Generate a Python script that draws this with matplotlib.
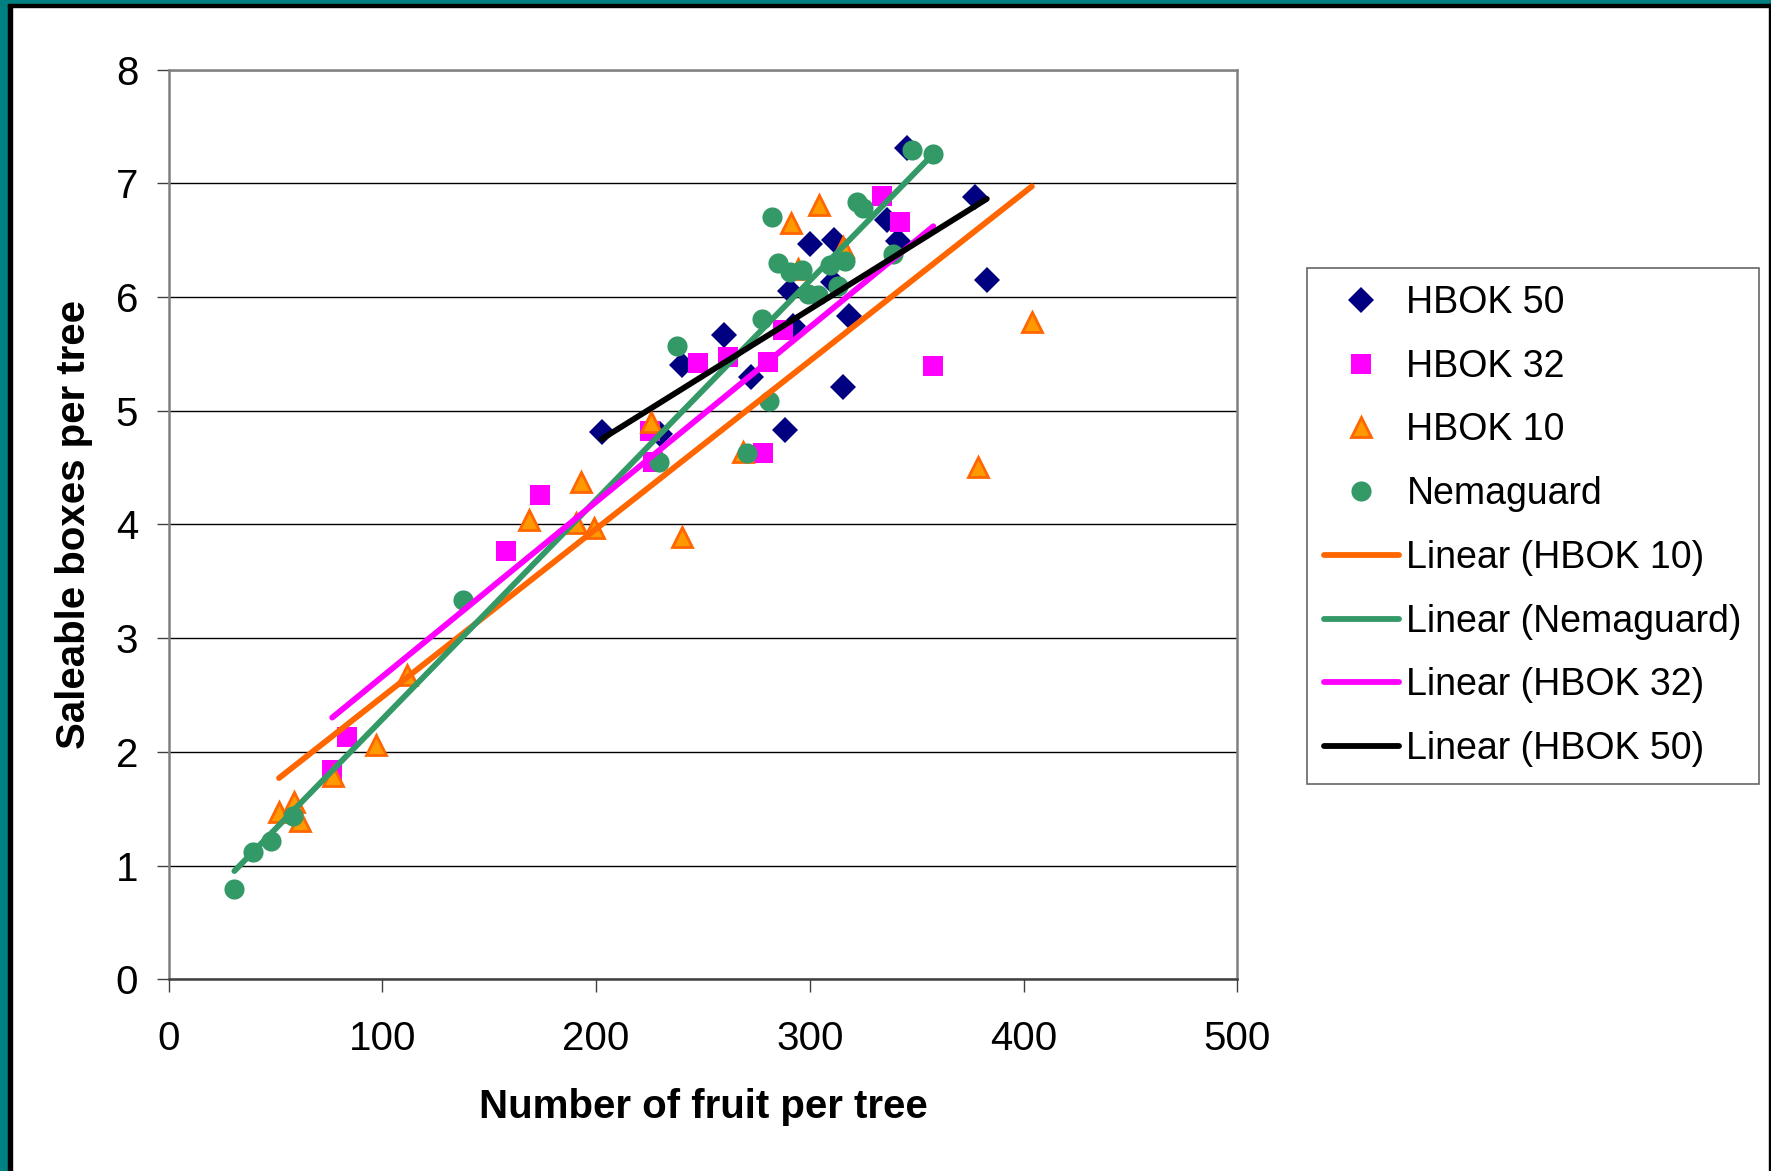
import numpy as np
import matplotlib.pyplot as plt
from matplotlib.patches import Rectangle

plt.rcParams['font.family'] = ['Liberation Sans', 'DejaVu Sans']

# HBOK 50
hbok50_x = [202.6, 229.9, 240.3, 259.9, 272.5, 288.4, 290.7, 292.3, 300.1, 311.3,
            311.0, 315.7, 318.5, 336.0, 341.4, 345.3, 377.3, 382.8]
hbok50_y = [4.81, 4.80, 5.40, 5.67, 5.30, 4.83, 6.05, 5.75, 6.47, 6.50,
            6.13, 5.21, 5.83, 6.68, 6.49, 7.31, 6.88, 6.15]

# HBOK 32
hbok32_x = [76.5, 83.6, 157.8, 173.7, 225.2, 226.5, 247.8, 261.9, 278.0, 280.6,
            287.6, 333.6, 342.2, 357.8]
hbok32_y = [1.84, 2.13, 3.77, 4.26, 4.82, 4.55, 5.42, 5.47, 4.63, 5.43,
            5.71, 6.89, 6.66, 5.39]

# HBOK 10
hbok10_x = [51.6, 58.6, 61.4, 77.0, 97.0, 111.6, 168.6, 190.6, 192.9, 199.0,
            225.5, 240.0, 268.9, 291.2, 294.6, 304.3, 315.7, 378.5, 403.9]
hbok10_y = [1.47, 1.56, 1.39, 1.79, 2.06, 2.68, 4.04, 4.01, 4.37, 3.97,
            4.90, 3.89, 4.64, 6.65, 6.25, 6.81, 6.44, 4.51, 5.78]

# Nemaguard
nema_x = [30.7, 39.3, 47.8, 58.0, 137.8, 229.4, 238.0, 270.5, 277.8, 280.9,
          282.1, 285.3, 290.7, 296.2, 299.3, 304.0, 309.5, 313.4, 316.5, 322.0,
          325.0, 339.0, 347.7, 357.8]
nema_y = [0.79, 1.12, 1.22, 1.44, 3.34, 4.55, 5.57, 4.63, 5.81, 5.09,
          6.70, 6.30, 6.22, 6.24, 6.03, 6.02, 6.28, 6.10, 6.32, 6.84,
          6.78, 6.38, 7.29, 7.26]

x_ticks = [0, 100, 200, 300, 400, 500]
y_ticks = [0, 1, 2, 3, 4, 5, 6, 7, 8]

navy = '#000080'
magenta = '#FF00FF'
orange = '#FF6600'
orange_fill = '#FF9900'
green = '#339966'

fig = plt.figure(figsize=(17.71, 11.71), dpi=100)
ax = fig.add_axes([0.0953, 0.1637, 0.6033, 0.7768])

ax.set_xlim(0, 500)
ax.set_ylim(0, 8)
ax.set_xticks(x_ticks)
ax.set_yticks(y_ticks)
ax.yaxis.grid(True, color='black', linewidth=1.0)
ax.set_axisbelow(True)

h50, = ax.plot(hbok50_x, hbok50_y, 'D', color=navy, markersize=13.5, linestyle='none',
               markeredgewidth=0, label='HBOK 50', zorder=3)
h32, = ax.plot(hbok32_x, hbok32_y, 's', color=magenta, markersize=15, linestyle='none',
               markeredgewidth=0, label='HBOK 32', zorder=3)
h10, = ax.plot(hbok10_x, hbok10_y, '^', markerfacecolor=orange_fill, markeredgecolor=orange,
               markersize=15, markeredgewidth=2, linestyle='none', label='HBOK 10', zorder=3)
hn, = ax.plot(nema_x, nema_y, 'o', color=green, markersize=14.5, markeredgewidth=0,
              linestyle='none', label='Nemaguard', zorder=3)


def trend(xs, ys, color, label):
    xs = np.array(xs)
    k, b = np.polyfit(xs, ys, 1)
    xx = np.array([xs.min(), xs.max()])
    line, = ax.plot(xx, k * xx + b, color=color, linewidth=4.2, solid_capstyle='round',
                    label=label, zorder=4)
    return line


t10 = trend(hbok10_x, hbok10_y, orange, 'Linear (HBOK 10)')
tn = trend(nema_x, nema_y, green, 'Linear (Nemaguard)')
t32 = trend(hbok32_x, hbok32_y, magenta, 'Linear (HBOK 32)')
t50 = trend(hbok50_x, hbok50_y, 'black', 'Linear (HBOK 50)')

for side in ['top', 'right', 'left']:
    ax.spines[side].set_color('#808080')
    ax.spines[side].set_linewidth(1.8)
ax.spines['bottom'].set_color('#404040')
ax.spines['bottom'].set_linewidth(1.8)

ax.tick_params(axis='both', direction='out', length=9, width=1, color='#404040',
               labelsize=29)
ax.tick_params(axis='y', pad=13)
ax.tick_params(axis='x', pad=20)

ax.set_xlabel('Number of fruit per tree', fontsize=29, fontweight='bold', labelpad=22)
ax.set_ylabel('Saleable boxes per tree', fontsize=29, fontweight='bold', labelpad=16)

leg = fig.legend(handles=[h50, h32, h10, hn, t10, tn, t32, t50],
                 loc='upper left', bbox_to_anchor=(1307 / 1771, 1 - 268 / 1171),
                 fontsize=27, frameon=True, fancybox=False, edgecolor='#404040',
                 handlelength=2.0, handletextpad=0.2, labelspacing=0.74,
                 borderpad=0.45, borderaxespad=0)
leg.get_frame().set_linewidth(1.2)

# slide frame: teal strip left and top with a black inner line
fig.patches.append(Rectangle((0, 0), 8 / 1771, 1, transform=fig.transFigure,
                             color='#008080', zorder=10))
fig.patches.append(Rectangle((8 / 1771, 0), 4 / 1771, 1, transform=fig.transFigure,
                             color='black', zorder=10))
fig.patches.append(Rectangle((0, 1 - 4 / 1171), 1, 4 / 1171, transform=fig.transFigure,
                             color='#008080', zorder=10))
fig.patches.append(Rectangle((8 / 1771, 1 - 7 / 1171), 1, 3 / 1171, transform=fig.transFigure,
                             color='black', zorder=10))
fig.patches.append(Rectangle((1 - 2 / 1771, 0), 2 / 1771, 1 - 4 / 1171, transform=fig.transFigure,
                             color='black', zorder=10))

fig.savefig('out.png', dpi=100)
